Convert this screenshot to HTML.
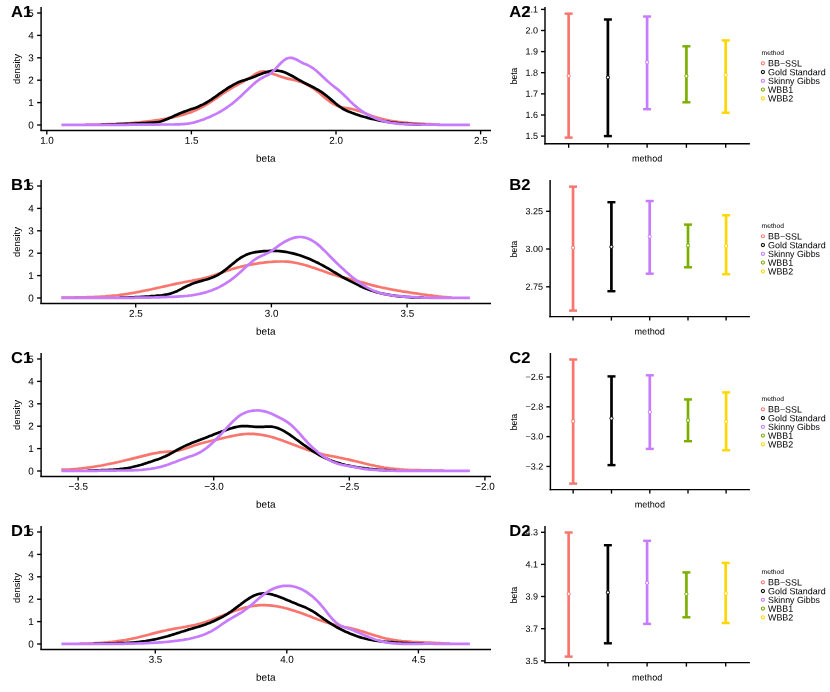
<!DOCTYPE html>
<html>
<head>
<meta charset="utf-8">
<title>density / interval comparison</title>
<style>
html,body{margin:0;padding:0;background:#ffffff;}
body{width:830px;height:692px;overflow:hidden;}
svg{display:block;font-family:"Liberation Sans",sans-serif;will-change:transform;}
</style>
</head>
<body>
<svg width="830" height="692" viewBox="0 0 830 692">
<rect x="0" y="0" width="830" height="692" fill="#ffffff"/>
<path d="M85.4 124.6L87.4 124.6L89.4 124.6L91.4 124.6L93.4 124.5L95.4 124.5L97.4 124.5L99.4 124.4L101.4 124.4L103.5 124.3L105.5 124.3L107.5 124.2L109.5 124.2L111.5 124.1L113.5 124.0L115.5 124.0L117.5 123.9L119.5 123.8L121.5 123.7L123.5 123.6L125.5 123.5L127.5 123.3L129.5 123.2L131.5 123.0L133.5 122.9L135.5 122.7L137.5 122.5L139.5 122.4L141.5 122.2L143.5 121.9L145.5 121.7L147.5 121.5L149.5 121.2L151.5 121.0L153.5 120.7L155.5 120.4L157.5 120.1L159.5 119.8L161.5 119.4L163.5 119.1L165.5 118.7L167.5 118.3L169.5 117.9L171.5 117.5L173.5 117.1L175.5 116.6L177.5 116.1L179.5 115.6L181.5 115.1L183.5 114.6L185.6 114.0L187.6 113.3L189.6 112.7L191.6 111.9L193.6 111.1L195.6 110.2L197.6 109.3L199.6 108.3L201.6 107.3L203.6 106.2L205.6 105.0L207.6 103.9L209.6 102.6L211.6 101.3L213.6 100.0L215.6 98.7L217.6 97.3L219.6 95.9L221.6 94.5L223.6 93.1L225.6 91.8L227.6 90.5L229.6 89.3L231.6 88.1L233.6 86.9L235.6 85.8L237.6 84.7L239.6 83.6L241.6 82.5L243.6 81.4L245.6 80.2L247.6 79.1L249.6 77.8L251.6 76.6L253.6 75.3L255.6 74.0L257.6 72.9L259.6 72.1L261.6 71.5L263.6 71.4L265.6 71.7L267.7 72.2L269.7 72.8L271.7 73.5L273.7 74.1L275.7 74.8L277.7 75.5L279.7 76.2L281.7 76.9L283.7 77.5L285.7 78.1L287.7 78.6L289.7 79.1L291.7 79.5L293.7 80.0L295.7 80.5L297.7 81.0L299.7 81.6L301.7 82.3L303.7 83.1L305.7 84.0L307.7 85.0L309.7 86.1L311.7 87.4L313.7 88.7L315.7 90.1L317.7 91.7L319.7 93.3L321.7 94.9L323.7 96.7L325.7 98.4L327.7 100.0L329.7 101.5L331.7 102.8L333.7 104.0L335.7 105.0L337.7 105.9L339.7 106.6L341.7 107.2L343.7 107.7L345.7 108.0L347.8 108.3L349.8 108.6L351.8 109.0L353.8 109.5L355.8 110.0L357.8 110.6L359.8 111.3L361.8 112.1L363.8 112.8L365.8 113.6L367.8 114.4L369.8 115.1L371.8 115.9L373.8 116.6L375.8 117.2L377.8 117.8L379.8 118.4L381.8 118.9L383.8 119.4L385.8 119.9L387.8 120.3L389.8 120.7L391.8 121.0L393.8 121.3L395.8 121.6L397.8 121.9L399.8 122.1L401.8 122.3L403.8 122.5L405.8 122.7L407.8 122.9L409.8 123.0L411.8 123.2L413.8 123.3L415.8 123.4L417.8 123.5L419.8 123.6L421.8 123.8L423.8 123.9L425.8 124.0L427.8 124.1L429.9 124.2L431.9 124.3L433.9 124.4L435.9 124.5L437.9 124.6L439.9 124.6" fill="none" stroke="#F8766D" stroke-width="2.70" stroke-linejoin="round" stroke-linecap="butt"/>
<path d="M101.4 124.7L103.5 124.6L105.5 124.6L107.5 124.5L109.5 124.5L111.5 124.4L113.5 124.3L115.5 124.3L117.5 124.2L119.5 124.1L121.5 124.1L123.5 124.0L125.5 123.9L127.5 123.8L129.5 123.8L131.5 123.7L133.5 123.6L135.5 123.5L137.5 123.4L139.5 123.3L141.5 123.2L143.5 123.1L145.5 123.0L147.5 122.9L149.5 122.8L151.5 122.7L153.5 122.6L155.5 122.4L157.5 122.2L159.5 121.8L161.5 121.3L163.5 120.6L165.5 119.8L167.5 119.0L169.5 118.1L171.5 117.2L173.5 116.2L175.5 115.3L177.5 114.4L179.5 113.5L181.5 112.7L183.5 111.9L185.6 111.2L187.6 110.5L189.6 109.8L191.6 109.1L193.6 108.4L195.6 107.7L197.6 106.9L199.6 106.0L201.6 105.1L203.6 104.1L205.6 103.0L207.6 101.8L209.6 100.6L211.6 99.3L213.6 97.9L215.6 96.6L217.6 95.2L219.6 93.7L221.6 92.3L223.6 90.9L225.6 89.6L227.6 88.2L229.6 87.0L231.6 85.8L233.6 84.6L235.6 83.6L237.6 82.6L239.6 81.8L241.6 81.0L243.6 80.4L245.6 79.7L247.6 79.1L249.6 78.4L251.6 77.7L253.6 76.9L255.6 76.2L257.6 75.3L259.6 74.5L261.6 73.8L263.6 73.0L265.6 72.4L267.7 71.8L269.7 71.3L271.7 70.9L273.7 70.7L275.7 70.6L277.7 70.7L279.7 71.0L281.7 71.4L283.7 72.0L285.7 72.8L287.7 73.7L289.7 74.7L291.7 75.7L293.7 76.8L295.7 78.0L297.7 79.1L299.7 80.3L301.7 81.4L303.7 82.5L305.7 83.5L307.7 84.5L309.7 85.5L311.7 86.5L313.7 87.5L315.7 88.6L317.7 89.7L319.7 90.9L321.7 92.2L323.7 93.6L325.7 95.1L327.7 96.7L329.7 98.4L331.7 100.1L333.7 101.8L335.7 103.5L337.7 105.1L339.7 106.6L341.7 108.0L343.7 109.3L345.7 110.3L347.8 111.2L349.8 112.0L351.8 112.8L353.8 113.5L355.8 114.3L357.8 114.9L359.8 115.6L361.8 116.2L363.8 116.8L365.8 117.3L367.8 117.9L369.8 118.4L371.8 118.9L373.8 119.3L375.8 119.8L377.8 120.2L379.8 120.6L381.8 120.9L383.8 121.3L385.8 121.6L387.8 121.9L389.8 122.2L391.8 122.4L393.8 122.7L395.8 122.9L397.8 123.1L399.8 123.3L401.8 123.5L403.8 123.7L405.8 123.8L407.8 123.9L409.8 124.1L411.8 124.2L413.8 124.3L415.8 124.4L417.8 124.4L419.8 124.5L421.8 124.6L423.8 124.6L425.8 124.7" fill="none" stroke="#000000" stroke-width="2.70" stroke-linejoin="round" stroke-linecap="butt"/>
<path d="M61.4 124.8L63.4 124.8L65.4 124.8L67.4 124.8L69.4 124.9L71.4 124.9L73.4 124.9L75.4 124.9L77.4 124.9L79.4 124.9L81.4 124.9L83.4 124.9L85.4 124.9L87.4 124.9L89.4 124.9L91.4 124.9L93.4 124.9L95.4 124.9L97.4 124.9L99.4 124.9L101.4 124.9L103.5 124.9L105.5 124.9L107.5 124.8L109.5 124.8L111.5 124.8L113.5 124.8L115.5 124.8L117.5 124.8L119.5 124.8L121.5 124.8L123.5 124.8L125.5 124.8L127.5 124.8L129.5 124.7L131.5 124.7L133.5 124.7L135.5 124.7L137.5 124.7L139.5 124.7L141.5 124.7L143.5 124.7L145.5 124.6L147.5 124.6L149.5 124.6L151.5 124.6L153.5 124.6L155.5 124.6L157.5 124.6L159.5 124.6L161.5 124.5L163.5 124.5L165.5 124.5L167.5 124.5L169.5 124.5L171.5 124.5L173.5 124.5L175.5 124.4L177.5 124.4L179.5 124.3L181.5 124.2L183.5 124.1L185.6 123.9L187.6 123.7L189.6 123.4L191.6 123.0L193.6 122.6L195.6 122.0L197.6 121.4L199.6 120.8L201.6 120.1L203.6 119.4L205.6 118.6L207.6 117.8L209.6 116.9L211.6 116.0L213.6 115.1L215.6 114.1L217.6 113.1L219.6 112.0L221.6 110.8L223.6 109.6L225.6 108.3L227.6 107.0L229.6 105.5L231.6 104.1L233.6 102.5L235.6 100.8L237.6 99.1L239.6 97.3L241.6 95.4L243.6 93.5L245.6 91.6L247.6 89.7L249.6 87.7L251.6 85.9L253.6 84.1L255.6 82.4L257.6 80.8L259.6 79.4L261.6 78.2L263.6 77.1L265.6 76.1L267.7 75.2L269.7 74.0L271.7 72.5L273.7 70.7L275.7 68.6L277.7 66.4L279.7 64.3L281.7 62.2L283.7 60.5L285.7 59.1L287.7 58.2L289.7 57.8L291.7 57.9L293.7 58.4L295.7 59.2L297.7 60.3L299.7 61.4L301.7 62.5L303.7 63.5L305.7 64.3L307.7 65.1L309.7 66.1L311.7 67.3L313.7 68.7L315.7 70.3L317.7 72.0L319.7 73.8L321.7 75.7L323.7 77.6L325.7 79.5L327.7 81.3L329.7 83.0L331.7 84.7L333.7 86.3L335.7 87.8L337.7 89.4L339.7 91.1L341.7 92.9L343.7 94.7L345.7 96.7L347.8 98.8L349.8 100.9L351.8 102.8L353.8 104.7L355.8 106.4L357.8 108.0L359.8 109.5L361.8 111.0L363.8 112.3L365.8 113.5L367.8 114.7L369.8 115.7L371.8 116.7L373.8 117.6L375.8 118.4L377.8 119.2L379.8 119.9L381.8 120.5L383.8 121.1L385.8 121.6L387.8 122.1L389.8 122.5L391.8 122.8L393.8 123.1L395.8 123.4L397.8 123.6L399.8 123.8L401.8 124.0L403.8 124.1L405.8 124.2L407.8 124.3L409.8 124.4L411.8 124.4L413.8 124.5L415.8 124.5L417.8 124.5L419.8 124.5L421.8 124.6L423.8 124.6L425.8 124.6L427.8 124.6L429.9 124.7L431.9 124.7L433.9 124.7L435.9 124.7L437.9 124.8L439.9 124.8L441.9 124.8L443.9 124.9L445.9 124.9L447.9 124.9L449.9 124.9L451.9 124.9L453.9 124.9L455.9 124.9L457.9 124.9L459.9 124.9L461.9 124.9L463.9 124.9L465.9 124.9L467.9 124.8L469.9 124.8" fill="none" stroke="#C77CFF" stroke-width="2.70" stroke-linejoin="round" stroke-linecap="butt"/>
<line x1="41.10" y1="7.00" x2="41.10" y2="131.12" stroke="#000000" stroke-width="1.45" stroke-linecap="butt"/>
<line x1="40.38" y1="130.40" x2="491.00" y2="130.40" stroke="#000000" stroke-width="1.45" stroke-linecap="butt"/>
<line x1="37.10" y1="125.00" x2="41.10" y2="125.00" stroke="#000000" stroke-width="1.35" stroke-linecap="butt"/>
<text x="33.70" y="128.44" font-size="9.90" text-anchor="end" font-weight="normal" fill="#000000" stroke="#000000" stroke-width="0.02" transform="rotate(0.03 33.70 128.44)">0</text>
<line x1="37.10" y1="102.60" x2="41.10" y2="102.60" stroke="#000000" stroke-width="1.35" stroke-linecap="butt"/>
<text x="33.70" y="106.04" font-size="9.90" text-anchor="end" font-weight="normal" fill="#000000" stroke="#000000" stroke-width="0.02" transform="rotate(0.03 33.70 106.04)">1</text>
<line x1="37.10" y1="80.20" x2="41.10" y2="80.20" stroke="#000000" stroke-width="1.35" stroke-linecap="butt"/>
<text x="33.70" y="83.64" font-size="9.90" text-anchor="end" font-weight="normal" fill="#000000" stroke="#000000" stroke-width="0.02" transform="rotate(0.03 33.70 83.64)">2</text>
<line x1="37.10" y1="57.80" x2="41.10" y2="57.80" stroke="#000000" stroke-width="1.35" stroke-linecap="butt"/>
<text x="33.70" y="61.24" font-size="9.90" text-anchor="end" font-weight="normal" fill="#000000" stroke="#000000" stroke-width="0.02" transform="rotate(0.03 33.70 61.24)">3</text>
<line x1="37.10" y1="35.40" x2="41.10" y2="35.40" stroke="#000000" stroke-width="1.35" stroke-linecap="butt"/>
<text x="33.70" y="38.84" font-size="9.90" text-anchor="end" font-weight="normal" fill="#000000" stroke="#000000" stroke-width="0.02" transform="rotate(0.03 33.70 38.84)">4</text>
<line x1="37.10" y1="13.00" x2="41.10" y2="13.00" stroke="#000000" stroke-width="1.35" stroke-linecap="butt"/>
<text x="33.70" y="16.44" font-size="9.90" text-anchor="end" font-weight="normal" fill="#000000" stroke="#000000" stroke-width="0.02" transform="rotate(0.03 33.70 16.44)">5</text>
<line x1="46.80" y1="130.40" x2="46.80" y2="134.40" stroke="#000000" stroke-width="1.35" stroke-linecap="butt"/>
<text x="47.00" y="143.80" font-size="9.90" text-anchor="middle" font-weight="normal" fill="#000000" stroke="#000000" stroke-width="0.02" transform="rotate(0.03 47.00 143.80)">1.0</text>
<line x1="191.40" y1="130.40" x2="191.40" y2="134.40" stroke="#000000" stroke-width="1.35" stroke-linecap="butt"/>
<text x="191.60" y="143.80" font-size="9.90" text-anchor="middle" font-weight="normal" fill="#000000" stroke="#000000" stroke-width="0.02" transform="rotate(0.03 191.60 143.80)">1.5</text>
<line x1="336.00" y1="130.40" x2="336.00" y2="134.40" stroke="#000000" stroke-width="1.35" stroke-linecap="butt"/>
<text x="336.20" y="143.80" font-size="9.90" text-anchor="middle" font-weight="normal" fill="#000000" stroke="#000000" stroke-width="0.02" transform="rotate(0.03 336.20 143.80)">2.0</text>
<line x1="480.60" y1="130.40" x2="480.60" y2="134.40" stroke="#000000" stroke-width="1.35" stroke-linecap="butt"/>
<text x="480.80" y="143.80" font-size="9.90" text-anchor="middle" font-weight="normal" fill="#000000" stroke="#000000" stroke-width="0.02" transform="rotate(0.03 480.80 143.80)">2.5</text>
<text x="265.75" y="161.70" font-size="10.00" text-anchor="middle" font-weight="normal" fill="#000000" stroke="#000000" stroke-width="0.02" transform="rotate(0.03 265.75 161.70)">beta</text>
<text x="20.40" y="69.00" font-size="9.45" text-anchor="middle" font-weight="normal" fill="#000000" stroke="#000000" stroke-width="0.02" transform="rotate(-90 20.40 69.00)">density</text>
<text transform="translate(11.00 17.00) rotate(0.03) scale(1.047 1)" font-size="15.85" font-weight="bold" fill="#000000" stroke="#000000" stroke-width="0.02">A1</text>
<path d="M61.4 297.6L63.4 297.5L65.4 297.5L67.4 297.5L69.4 297.5L71.4 297.5L73.4 297.5L75.4 297.4L77.4 297.4L79.4 297.4L81.4 297.3L83.4 297.3L85.4 297.3L87.4 297.2L89.4 297.2L91.4 297.1L93.4 297.0L95.4 296.9L97.4 296.9L99.4 296.8L101.4 296.6L103.5 296.5L105.5 296.4L107.5 296.2L109.5 296.1L111.5 295.9L113.5 295.7L115.5 295.5L117.5 295.3L119.5 295.0L121.5 294.7L123.5 294.5L125.5 294.2L127.5 293.9L129.5 293.5L131.5 293.2L133.5 292.9L135.5 292.5L137.5 292.1L139.5 291.7L141.5 291.3L143.5 290.9L145.5 290.5L147.5 290.1L149.5 289.7L151.5 289.3L153.5 288.8L155.5 288.4L157.5 287.9L159.5 287.5L161.5 287.0L163.5 286.6L165.5 286.1L167.5 285.7L169.5 285.3L171.5 284.8L173.5 284.4L175.5 283.9L177.5 283.5L179.5 283.1L181.5 282.7L183.5 282.3L185.6 281.9L187.6 281.5L189.6 281.1L191.6 280.8L193.6 280.4L195.6 280.0L197.6 279.6L199.6 279.2L201.6 278.8L203.6 278.3L205.6 277.8L207.6 277.2L209.6 276.7L211.6 276.1L213.6 275.4L215.6 274.7L217.6 274.0L219.6 273.3L221.6 272.6L223.6 271.9L225.6 271.2L227.6 270.5L229.6 269.9L231.6 269.2L233.6 268.6L235.6 268.1L237.6 267.5L239.6 267.0L241.6 266.5L243.6 266.1L245.6 265.6L247.6 265.2L249.6 264.8L251.6 264.5L253.6 264.1L255.6 263.8L257.6 263.5L259.6 263.2L261.6 262.9L263.6 262.7L265.6 262.4L267.7 262.2L269.7 262.0L271.7 261.9L273.7 261.7L275.7 261.6L277.7 261.5L279.7 261.5L281.7 261.5L283.7 261.5L285.7 261.6L287.7 261.7L289.7 261.9L291.7 262.2L293.7 262.5L295.7 262.8L297.7 263.2L299.7 263.7L301.7 264.2L303.7 264.7L305.7 265.3L307.7 265.9L309.7 266.5L311.7 267.2L313.7 267.8L315.7 268.5L317.7 269.2L319.7 269.9L321.7 270.6L323.7 271.3L325.7 272.0L327.7 272.7L329.7 273.4L331.7 274.1L333.7 274.7L335.7 275.3L337.7 275.9L339.7 276.5L341.7 277.1L343.7 277.6L345.7 278.1L347.8 278.6L349.8 279.1L351.8 279.5L353.8 280.0L355.8 280.6L357.8 281.1L359.8 281.7L361.8 282.2L363.8 282.8L365.8 283.4L367.8 284.0L369.8 284.5L371.8 285.1L373.8 285.6L375.8 286.1L377.8 286.6L379.8 287.0L381.8 287.5L383.8 287.9L385.8 288.3L387.8 288.7L389.8 289.1L391.8 289.5L393.8 289.9L395.8 290.2L397.8 290.6L399.8 290.9L401.8 291.3L403.8 291.6L405.8 291.9L407.8 292.2L409.8 292.5L411.8 292.8L413.8 293.1L415.8 293.4L417.8 293.7L419.8 294.0L421.8 294.3L423.8 294.5L425.8 294.8L427.8 295.1L429.9 295.3L431.9 295.6L433.9 295.9L435.9 296.1L437.9 296.4L439.9 296.6L441.9 296.8L443.9 297.0L445.9 297.2L447.9 297.4L449.9 297.6L451.9 297.7" fill="none" stroke="#F8766D" stroke-width="2.70" stroke-linejoin="round" stroke-linecap="butt"/>
<path d="M119.5 297.7L121.5 297.6L123.5 297.6L125.5 297.5L127.5 297.5L129.5 297.4L131.5 297.3L133.5 297.3L135.5 297.2L137.5 297.1L139.5 297.0L141.5 296.9L143.5 296.8L145.5 296.6L147.5 296.5L149.5 296.4L151.5 296.2L153.5 296.0L155.5 295.9L157.5 295.7L159.5 295.5L161.5 295.3L163.5 295.0L165.5 294.7L167.5 294.4L169.5 293.9L171.5 293.3L173.5 292.6L175.5 291.8L177.5 290.9L179.5 289.9L181.5 288.9L183.5 287.8L185.6 286.8L187.6 285.8L189.6 284.9L191.6 284.0L193.6 283.3L195.6 282.6L197.6 282.0L199.6 281.4L201.6 280.9L203.6 280.3L205.6 279.8L207.6 279.2L209.6 278.5L211.6 277.8L213.6 277.0L215.6 276.1L217.6 275.1L219.6 273.9L221.6 272.6L223.6 271.1L225.6 269.6L227.6 268.0L229.6 266.4L231.6 264.7L233.6 263.1L235.6 261.5L237.6 259.9L239.6 258.5L241.6 257.2L243.6 256.1L245.6 255.1L247.6 254.2L249.6 253.5L251.6 253.0L253.6 252.5L255.6 252.1L257.6 251.8L259.6 251.6L261.6 251.4L263.6 251.2L265.6 251.1L267.7 251.0L269.7 250.9L271.7 250.9L273.7 250.9L275.7 250.9L277.7 251.0L279.7 251.2L281.7 251.4L283.7 251.6L285.7 251.9L287.7 252.3L289.7 252.7L291.7 253.1L293.7 253.6L295.7 254.1L297.7 254.7L299.7 255.3L301.7 256.0L303.7 256.7L305.7 257.5L307.7 258.3L309.7 259.1L311.7 260.0L313.7 260.9L315.7 261.9L317.7 262.8L319.7 263.9L321.7 264.9L323.7 266.0L325.7 267.1L327.7 268.2L329.7 269.4L331.7 270.6L333.7 271.8L335.7 273.0L337.7 274.2L339.7 275.4L341.7 276.6L343.7 277.7L345.7 278.8L347.8 279.9L349.8 280.9L351.8 281.9L353.8 282.9L355.8 283.9L357.8 284.9L359.8 285.9L361.8 286.8L363.8 287.7L365.8 288.5L367.8 289.3L369.8 290.0L371.8 290.7L373.8 291.3L375.8 291.9L377.8 292.5L379.8 293.0L381.8 293.4L383.8 293.9L385.8 294.3L387.8 294.7L389.8 295.0L391.8 295.3L393.8 295.6L395.8 295.9L397.8 296.1L399.8 296.3L401.8 296.5L403.8 296.7L405.8 296.9L407.8 297.0L409.8 297.1L411.8 297.3L413.8 297.3L415.8 297.4L417.8 297.5L419.8 297.6L421.8 297.6L423.8 297.7" fill="none" stroke="#000000" stroke-width="2.70" stroke-linejoin="round" stroke-linecap="butt"/>
<path d="M61.4 297.9L63.4 297.9L65.4 297.9L67.4 297.9L69.4 297.9L71.4 297.8L73.4 297.8L75.4 297.8L77.4 297.8L79.4 297.8L81.4 297.8L83.4 297.8L85.4 297.8L87.4 297.8L89.4 297.8L91.4 297.8L93.4 297.8L95.4 297.8L97.4 297.8L99.4 297.8L101.4 297.8L103.5 297.8L105.5 297.8L107.5 297.8L109.5 297.8L111.5 297.8L113.5 297.8L115.5 297.8L117.5 297.8L119.5 297.8L121.5 297.8L123.5 297.8L125.5 297.8L127.5 297.8L129.5 297.8L131.5 297.8L133.5 297.8L135.5 297.7L137.5 297.7L139.5 297.7L141.5 297.7L143.5 297.7L145.5 297.6L147.5 297.6L149.5 297.6L151.5 297.5L153.5 297.5L155.5 297.4L157.5 297.4L159.5 297.3L161.5 297.2L163.5 297.2L165.5 297.1L167.5 297.0L169.5 297.0L171.5 296.9L173.5 296.8L175.5 296.7L177.5 296.6L179.5 296.4L181.5 296.3L183.5 296.2L185.6 296.0L187.6 295.8L189.6 295.5L191.6 295.3L193.6 295.0L195.6 294.7L197.6 294.3L199.6 293.9L201.6 293.4L203.6 292.9L205.6 292.4L207.6 291.8L209.6 291.1L211.6 290.4L213.6 289.6L215.6 288.8L217.6 287.9L219.6 286.9L221.6 285.8L223.6 284.7L225.6 283.5L227.6 282.2L229.6 280.9L231.6 279.4L233.6 277.9L235.6 276.2L237.6 274.5L239.6 272.7L241.6 270.9L243.6 269.0L245.6 267.2L247.6 265.4L249.6 263.7L251.6 262.0L253.6 260.4L255.6 259.0L257.6 257.8L259.6 256.7L261.6 255.8L263.6 254.9L265.6 254.0L267.7 253.1L269.7 252.1L271.7 250.8L273.7 249.4L275.7 247.9L277.7 246.4L279.7 244.9L281.7 243.6L283.7 242.3L285.7 241.2L287.7 240.2L289.7 239.3L291.7 238.5L293.7 237.9L295.7 237.4L297.7 237.1L299.7 237.0L301.7 237.0L303.7 237.3L305.7 237.7L307.7 238.4L309.7 239.2L311.7 240.3L313.7 241.5L315.7 242.9L317.7 244.4L319.7 246.1L321.7 248.0L323.7 249.9L325.7 251.9L327.7 253.9L329.7 256.0L331.7 258.0L333.7 260.0L335.7 262.0L337.7 263.9L339.7 265.9L341.7 267.8L343.7 269.6L345.7 271.5L347.8 273.2L349.8 275.0L351.8 276.7L353.8 278.3L355.8 279.9L357.8 281.4L359.8 282.8L361.8 284.2L363.8 285.5L365.8 286.7L367.8 287.9L369.8 288.9L371.8 289.9L373.8 290.8L375.8 291.6L377.8 292.3L379.8 292.9L381.8 293.4L383.8 293.9L385.8 294.3L387.8 294.7L389.8 295.0L391.8 295.3L393.8 295.6L395.8 295.8L397.8 296.0L399.8 296.2L401.8 296.4L403.8 296.6L405.8 296.7L407.8 296.9L409.8 297.0L411.8 297.1L413.8 297.2L415.8 297.4L417.8 297.4L419.8 297.5L421.8 297.6L423.8 297.7L425.8 297.7L427.8 297.7L429.9 297.8L431.9 297.8L433.9 297.8L435.9 297.8L437.9 297.9L439.9 297.9L441.9 297.9L443.9 297.9L445.9 297.9L447.9 297.8L449.9 297.8L451.9 297.8L453.9 297.8L455.9 297.8L457.9 297.8L459.9 297.8L461.9 297.8L463.9 297.8L465.9 297.8L467.9 297.9L469.9 297.9" fill="none" stroke="#C77CFF" stroke-width="2.70" stroke-linejoin="round" stroke-linecap="butt"/>
<line x1="41.10" y1="180.00" x2="41.10" y2="304.12" stroke="#000000" stroke-width="1.45" stroke-linecap="butt"/>
<line x1="40.38" y1="303.40" x2="491.00" y2="303.40" stroke="#000000" stroke-width="1.45" stroke-linecap="butt"/>
<line x1="37.10" y1="298.00" x2="41.10" y2="298.00" stroke="#000000" stroke-width="1.35" stroke-linecap="butt"/>
<text x="33.70" y="301.44" font-size="9.90" text-anchor="end" font-weight="normal" fill="#000000" stroke="#000000" stroke-width="0.02" transform="rotate(0.03 33.70 301.44)">0</text>
<line x1="37.10" y1="275.60" x2="41.10" y2="275.60" stroke="#000000" stroke-width="1.35" stroke-linecap="butt"/>
<text x="33.70" y="279.04" font-size="9.90" text-anchor="end" font-weight="normal" fill="#000000" stroke="#000000" stroke-width="0.02" transform="rotate(0.03 33.70 279.04)">1</text>
<line x1="37.10" y1="253.20" x2="41.10" y2="253.20" stroke="#000000" stroke-width="1.35" stroke-linecap="butt"/>
<text x="33.70" y="256.64" font-size="9.90" text-anchor="end" font-weight="normal" fill="#000000" stroke="#000000" stroke-width="0.02" transform="rotate(0.03 33.70 256.64)">2</text>
<line x1="37.10" y1="230.80" x2="41.10" y2="230.80" stroke="#000000" stroke-width="1.35" stroke-linecap="butt"/>
<text x="33.70" y="234.24" font-size="9.90" text-anchor="end" font-weight="normal" fill="#000000" stroke="#000000" stroke-width="0.02" transform="rotate(0.03 33.70 234.24)">3</text>
<line x1="37.10" y1="208.40" x2="41.10" y2="208.40" stroke="#000000" stroke-width="1.35" stroke-linecap="butt"/>
<text x="33.70" y="211.84" font-size="9.90" text-anchor="end" font-weight="normal" fill="#000000" stroke="#000000" stroke-width="0.02" transform="rotate(0.03 33.70 211.84)">4</text>
<line x1="37.10" y1="186.00" x2="41.10" y2="186.00" stroke="#000000" stroke-width="1.35" stroke-linecap="butt"/>
<text x="33.70" y="189.44" font-size="9.90" text-anchor="end" font-weight="normal" fill="#000000" stroke="#000000" stroke-width="0.02" transform="rotate(0.03 33.70 189.44)">5</text>
<line x1="135.70" y1="303.40" x2="135.70" y2="307.40" stroke="#000000" stroke-width="1.35" stroke-linecap="butt"/>
<text x="135.90" y="316.80" font-size="9.90" text-anchor="middle" font-weight="normal" fill="#000000" stroke="#000000" stroke-width="0.02" transform="rotate(0.03 135.90 316.80)">2.5</text>
<line x1="271.40" y1="303.40" x2="271.40" y2="307.40" stroke="#000000" stroke-width="1.35" stroke-linecap="butt"/>
<text x="271.60" y="316.80" font-size="9.90" text-anchor="middle" font-weight="normal" fill="#000000" stroke="#000000" stroke-width="0.02" transform="rotate(0.03 271.60 316.80)">3.0</text>
<line x1="407.10" y1="303.40" x2="407.10" y2="307.40" stroke="#000000" stroke-width="1.35" stroke-linecap="butt"/>
<text x="407.30" y="316.80" font-size="9.90" text-anchor="middle" font-weight="normal" fill="#000000" stroke="#000000" stroke-width="0.02" transform="rotate(0.03 407.30 316.80)">3.5</text>
<text x="265.75" y="334.70" font-size="10.00" text-anchor="middle" font-weight="normal" fill="#000000" stroke="#000000" stroke-width="0.02" transform="rotate(0.03 265.75 334.70)">beta</text>
<text x="20.40" y="242.00" font-size="9.45" text-anchor="middle" font-weight="normal" fill="#000000" stroke="#000000" stroke-width="0.02" transform="rotate(-90 20.40 242.00)">density</text>
<text transform="translate(11.00 190.00) rotate(0.03) scale(1.047 1)" font-size="15.85" font-weight="bold" fill="#000000" stroke="#000000" stroke-width="0.02">B1</text>
<path d="M61.4 469.7L63.4 469.7L65.4 469.6L67.4 469.5L69.4 469.5L71.4 469.3L73.4 469.2L75.4 469.0L77.4 468.9L79.4 468.7L81.4 468.5L83.4 468.2L85.4 468.0L87.4 467.7L89.4 467.5L91.4 467.2L93.4 466.9L95.4 466.5L97.4 466.2L99.4 465.8L101.4 465.5L103.5 465.1L105.5 464.7L107.5 464.3L109.5 463.9L111.5 463.5L113.5 463.1L115.5 462.6L117.5 462.2L119.5 461.7L121.5 461.3L123.5 460.8L125.5 460.3L127.5 459.8L129.5 459.4L131.5 458.9L133.5 458.4L135.5 457.9L137.5 457.4L139.5 456.9L141.5 456.4L143.5 455.9L145.5 455.4L147.5 454.9L149.5 454.4L151.5 453.9L153.5 453.5L155.5 453.1L157.5 452.8L159.5 452.4L161.5 452.2L163.5 452.0L165.5 451.8L167.5 451.7L169.5 451.6L171.5 451.5L173.5 451.3L175.5 451.0L177.5 450.7L179.5 450.2L181.5 449.7L183.5 449.1L185.6 448.5L187.6 447.8L189.6 447.2L191.6 446.5L193.6 445.8L195.6 445.1L197.6 444.4L199.6 443.8L201.6 443.2L203.6 442.7L205.6 442.2L207.6 441.8L209.6 441.3L211.6 440.9L213.6 440.4L215.6 439.9L217.6 439.4L219.6 439.0L221.6 438.5L223.6 438.0L225.6 437.5L227.6 437.0L229.6 436.6L231.6 436.1L233.6 435.7L235.6 435.3L237.6 435.0L239.6 434.7L241.6 434.4L243.6 434.2L245.6 434.0L247.6 433.9L249.6 433.9L251.6 433.9L253.6 433.9L255.6 434.1L257.6 434.3L259.6 434.5L261.6 434.8L263.6 435.2L265.6 435.6L267.7 436.0L269.7 436.5L271.7 437.0L273.7 437.6L275.7 438.2L277.7 438.9L279.7 439.5L281.7 440.2L283.7 441.0L285.7 441.7L287.7 442.4L289.7 443.2L291.7 444.0L293.7 444.7L295.7 445.5L297.7 446.3L299.7 447.0L301.7 447.8L303.7 448.5L305.7 449.2L307.7 449.9L309.7 450.6L311.7 451.3L313.7 451.9L315.7 452.5L317.7 453.1L319.7 453.6L321.7 454.1L323.7 454.6L325.7 455.0L327.7 455.4L329.7 455.8L331.7 456.1L333.7 456.5L335.7 456.9L337.7 457.3L339.7 457.7L341.7 458.1L343.7 458.5L345.7 459.0L347.8 459.4L349.8 459.9L351.8 460.4L353.8 460.9L355.8 461.3L357.8 461.8L359.8 462.3L361.8 462.8L363.8 463.3L365.8 463.7L367.8 464.2L369.8 464.7L371.8 465.1L373.8 465.5L375.8 466.0L377.8 466.4L379.8 466.8L381.8 467.1L383.8 467.5L385.8 467.8L387.8 468.1L389.8 468.4L391.8 468.6L393.8 468.8L395.8 469.0L397.8 469.2L399.8 469.4L401.8 469.5L403.8 469.7L405.8 469.8L407.8 469.9L409.8 470.0L411.8 470.0L413.8 470.1L415.8 470.1L417.8 470.2L419.8 470.2L421.8 470.3L423.8 470.3L425.8 470.3L427.8 470.4L429.9 470.4L431.9 470.4L433.9 470.5L435.9 470.5L437.9 470.5L439.9 470.6L441.9 470.6L443.9 470.7" fill="none" stroke="#F8766D" stroke-width="2.70" stroke-linejoin="round" stroke-linecap="butt"/>
<path d="M87.4 470.6L89.4 470.6L91.4 470.5L93.4 470.5L95.4 470.4L97.4 470.4L99.4 470.3L101.4 470.2L103.5 470.1L105.5 470.1L107.5 470.0L109.5 469.9L111.5 469.8L113.5 469.7L115.5 469.5L117.5 469.3L119.5 469.2L121.5 468.9L123.5 468.7L125.5 468.4L127.5 468.1L129.5 467.7L131.5 467.3L133.5 466.8L135.5 466.3L137.5 465.8L139.5 465.2L141.5 464.7L143.5 464.1L145.5 463.4L147.5 462.8L149.5 462.1L151.5 461.5L153.5 460.8L155.5 460.1L157.5 459.4L159.5 458.7L161.5 457.9L163.5 457.1L165.5 456.2L167.5 455.2L169.5 454.2L171.5 453.1L173.5 452.0L175.5 450.9L177.5 449.8L179.5 448.7L181.5 447.6L183.5 446.6L185.6 445.6L187.6 444.7L189.6 443.9L191.6 443.1L193.6 442.3L195.6 441.5L197.6 440.8L199.6 440.0L201.6 439.2L203.6 438.4L205.6 437.7L207.6 436.9L209.6 436.1L211.6 435.4L213.6 434.6L215.6 433.8L217.6 433.1L219.6 432.3L221.6 431.6L223.6 430.9L225.6 430.2L227.6 429.5L229.6 428.8L231.6 428.2L233.6 427.6L235.6 427.1L237.6 426.7L239.6 426.3L241.6 426.1L243.6 426.0L245.6 426.1L247.6 426.2L249.6 426.3L251.6 426.5L253.6 426.7L255.6 426.8L257.6 426.8L259.6 426.9L261.6 426.8L263.6 426.8L265.6 426.7L267.7 426.6L269.7 426.6L271.7 426.7L273.7 427.0L275.7 427.5L277.7 428.1L279.7 428.9L281.7 429.9L283.7 430.9L285.7 432.1L287.7 433.4L289.7 434.7L291.7 436.1L293.7 437.5L295.7 439.0L297.7 440.4L299.7 441.9L301.7 443.3L303.7 444.8L305.7 446.2L307.7 447.6L309.7 449.0L311.7 450.3L313.7 451.6L315.7 452.9L317.7 454.1L319.7 455.2L321.7 456.3L323.7 457.3L325.7 458.2L327.7 459.1L329.7 460.0L331.7 460.8L333.7 461.5L335.7 462.2L337.7 462.8L339.7 463.4L341.7 464.0L343.7 464.5L345.7 465.0L347.8 465.4L349.8 465.9L351.8 466.3L353.8 466.7L355.8 467.0L357.8 467.4L359.8 467.7L361.8 468.0L363.8 468.2L365.8 468.5L367.8 468.7L369.8 469.0L371.8 469.2L373.8 469.4L375.8 469.5L377.8 469.7L379.8 469.8L381.8 470.0L383.8 470.1L385.8 470.2L387.8 470.3L389.8 470.4L391.8 470.5L393.8 470.6L395.8 470.6" fill="none" stroke="#000000" stroke-width="2.70" stroke-linejoin="round" stroke-linecap="butt"/>
<path d="M61.4 470.8L63.4 470.8L65.4 470.9L67.4 470.9L69.4 470.9L71.4 470.9L73.4 470.9L75.4 470.9L77.4 470.9L79.4 470.9L81.4 470.9L83.4 470.9L85.4 470.9L87.4 470.9L89.4 470.9L91.4 470.8L93.4 470.8L95.4 470.8L97.4 470.8L99.4 470.7L101.4 470.7L103.5 470.7L105.5 470.7L107.5 470.6L109.5 470.6L111.5 470.6L113.5 470.6L115.5 470.6L117.5 470.5L119.5 470.5L121.5 470.5L123.5 470.5L125.5 470.5L127.5 470.5L129.5 470.4L131.5 470.4L133.5 470.3L135.5 470.2L137.5 470.1L139.5 470.0L141.5 469.9L143.5 469.7L145.5 469.5L147.5 469.2L149.5 469.0L151.5 468.7L153.5 468.3L155.5 468.0L157.5 467.5L159.5 467.1L161.5 466.6L163.5 466.0L165.5 465.4L167.5 464.7L169.5 464.1L171.5 463.3L173.5 462.6L175.5 461.9L177.5 461.1L179.5 460.3L181.5 459.6L183.5 458.8L185.6 458.1L187.6 457.3L189.6 456.6L191.6 455.9L193.6 455.2L195.6 454.4L197.6 453.5L199.6 452.6L201.6 451.4L203.6 450.1L205.6 448.7L207.6 447.1L209.6 445.4L211.6 443.7L213.6 441.8L215.6 439.8L217.6 437.8L219.6 435.7L221.6 433.6L223.6 431.4L225.6 429.2L227.6 427.0L229.6 424.9L231.6 422.8L233.6 420.8L235.6 418.9L237.6 417.2L239.6 415.7L241.6 414.4L243.6 413.4L245.6 412.5L247.6 411.8L249.6 411.3L251.6 410.9L253.6 410.6L255.6 410.5L257.6 410.4L259.6 410.5L261.6 410.8L263.6 411.1L265.6 411.6L267.7 412.2L269.7 413.0L271.7 413.8L273.7 414.8L275.7 415.8L277.7 416.8L279.7 417.8L281.7 418.8L283.7 419.8L285.7 421.0L287.7 422.3L289.7 423.8L291.7 425.5L293.7 427.4L295.7 429.4L297.7 431.5L299.7 433.7L301.7 436.0L303.7 438.3L305.7 440.5L307.7 442.7L309.7 444.8L311.7 446.7L313.7 448.6L315.7 450.3L317.7 452.0L319.7 453.6L321.7 455.2L323.7 456.6L325.7 457.9L327.7 459.2L329.7 460.3L331.7 461.4L333.7 462.3L335.7 463.1L337.7 463.8L339.7 464.3L341.7 464.8L343.7 465.2L345.7 465.5L347.8 465.8L349.8 466.2L351.8 466.5L353.8 466.9L355.8 467.3L357.8 467.7L359.8 468.1L361.8 468.5L363.8 468.8L365.8 469.1L367.8 469.4L369.8 469.6L371.8 469.7L373.8 469.9L375.8 470.0L377.8 470.1L379.8 470.2L381.8 470.3L383.8 470.4L385.8 470.5L387.8 470.6L389.8 470.6L391.8 470.7L393.8 470.7L395.8 470.8L397.8 470.8L399.8 470.9L401.8 470.9L403.8 470.9L405.8 470.9L407.8 470.9L409.8 470.9L411.8 470.9L413.8 470.9L415.8 470.9L417.8 470.9L419.8 470.9L421.8 470.9L423.8 470.9L425.8 470.9L427.8 470.9L429.9 470.9L431.9 470.9L433.9 470.8L435.9 470.8L437.9 470.8L439.9 470.8L441.9 470.8L443.9 470.8L445.9 470.8L447.9 470.8L449.9 470.8L451.9 470.8L453.9 470.8L455.9 470.8L457.9 470.8L459.9 470.8L461.9 470.8L463.9 470.8L465.9 470.9L467.9 470.9L469.9 470.9" fill="none" stroke="#C77CFF" stroke-width="2.70" stroke-linejoin="round" stroke-linecap="butt"/>
<line x1="41.10" y1="353.00" x2="41.10" y2="477.12" stroke="#000000" stroke-width="1.45" stroke-linecap="butt"/>
<line x1="40.38" y1="476.40" x2="491.00" y2="476.40" stroke="#000000" stroke-width="1.45" stroke-linecap="butt"/>
<line x1="37.10" y1="471.00" x2="41.10" y2="471.00" stroke="#000000" stroke-width="1.35" stroke-linecap="butt"/>
<text x="33.70" y="474.44" font-size="9.90" text-anchor="end" font-weight="normal" fill="#000000" stroke="#000000" stroke-width="0.02" transform="rotate(0.03 33.70 474.44)">0</text>
<line x1="37.10" y1="448.60" x2="41.10" y2="448.60" stroke="#000000" stroke-width="1.35" stroke-linecap="butt"/>
<text x="33.70" y="452.04" font-size="9.90" text-anchor="end" font-weight="normal" fill="#000000" stroke="#000000" stroke-width="0.02" transform="rotate(0.03 33.70 452.04)">1</text>
<line x1="37.10" y1="426.20" x2="41.10" y2="426.20" stroke="#000000" stroke-width="1.35" stroke-linecap="butt"/>
<text x="33.70" y="429.64" font-size="9.90" text-anchor="end" font-weight="normal" fill="#000000" stroke="#000000" stroke-width="0.02" transform="rotate(0.03 33.70 429.64)">2</text>
<line x1="37.10" y1="403.80" x2="41.10" y2="403.80" stroke="#000000" stroke-width="1.35" stroke-linecap="butt"/>
<text x="33.70" y="407.24" font-size="9.90" text-anchor="end" font-weight="normal" fill="#000000" stroke="#000000" stroke-width="0.02" transform="rotate(0.03 33.70 407.24)">3</text>
<line x1="37.10" y1="381.40" x2="41.10" y2="381.40" stroke="#000000" stroke-width="1.35" stroke-linecap="butt"/>
<text x="33.70" y="384.84" font-size="9.90" text-anchor="end" font-weight="normal" fill="#000000" stroke="#000000" stroke-width="0.02" transform="rotate(0.03 33.70 384.84)">4</text>
<line x1="37.10" y1="359.00" x2="41.10" y2="359.00" stroke="#000000" stroke-width="1.35" stroke-linecap="butt"/>
<text x="33.70" y="362.44" font-size="9.90" text-anchor="end" font-weight="normal" fill="#000000" stroke="#000000" stroke-width="0.02" transform="rotate(0.03 33.70 362.44)">5</text>
<line x1="78.10" y1="476.40" x2="78.10" y2="480.40" stroke="#000000" stroke-width="1.35" stroke-linecap="butt"/>
<text x="78.30" y="489.80" font-size="9.90" text-anchor="middle" font-weight="normal" fill="#000000" stroke="#000000" stroke-width="0.02" transform="rotate(0.03 78.30 489.80)">−3.5</text>
<line x1="213.70" y1="476.40" x2="213.70" y2="480.40" stroke="#000000" stroke-width="1.35" stroke-linecap="butt"/>
<text x="213.90" y="489.80" font-size="9.90" text-anchor="middle" font-weight="normal" fill="#000000" stroke="#000000" stroke-width="0.02" transform="rotate(0.03 213.90 489.80)">−3.0</text>
<line x1="349.30" y1="476.40" x2="349.30" y2="480.40" stroke="#000000" stroke-width="1.35" stroke-linecap="butt"/>
<text x="349.50" y="489.80" font-size="9.90" text-anchor="middle" font-weight="normal" fill="#000000" stroke="#000000" stroke-width="0.02" transform="rotate(0.03 349.50 489.80)">−2.5</text>
<line x1="484.90" y1="476.40" x2="484.90" y2="480.40" stroke="#000000" stroke-width="1.35" stroke-linecap="butt"/>
<text x="485.10" y="489.80" font-size="9.90" text-anchor="middle" font-weight="normal" fill="#000000" stroke="#000000" stroke-width="0.02" transform="rotate(0.03 485.10 489.80)">−2.0</text>
<text x="265.75" y="507.70" font-size="10.00" text-anchor="middle" font-weight="normal" fill="#000000" stroke="#000000" stroke-width="0.02" transform="rotate(0.03 265.75 507.70)">beta</text>
<text x="20.40" y="415.00" font-size="9.45" text-anchor="middle" font-weight="normal" fill="#000000" stroke="#000000" stroke-width="0.02" transform="rotate(-90 20.40 415.00)">density</text>
<text transform="translate(11.00 363.00) rotate(0.03) scale(1.047 1)" font-size="15.85" font-weight="bold" fill="#000000" stroke="#000000" stroke-width="0.02">C1</text>
<path d="M79.4 643.6L81.4 643.6L83.4 643.6L85.4 643.5L87.4 643.5L89.4 643.4L91.4 643.4L93.4 643.3L95.4 643.2L97.4 643.1L99.4 643.0L101.4 642.8L103.5 642.7L105.5 642.5L107.5 642.4L109.5 642.2L111.5 642.0L113.5 641.7L115.5 641.5L117.5 641.2L119.5 640.9L121.5 640.6L123.5 640.3L125.5 640.0L127.5 639.6L129.5 639.2L131.5 638.8L133.5 638.4L135.5 638.0L137.5 637.5L139.5 637.0L141.5 636.5L143.5 636.0L145.5 635.5L147.5 635.0L149.5 634.5L151.5 633.9L153.5 633.4L155.5 632.9L157.5 632.4L159.5 631.9L161.5 631.4L163.5 630.9L165.5 630.5L167.5 630.0L169.5 629.6L171.5 629.3L173.5 628.9L175.5 628.5L177.5 628.2L179.5 627.8L181.5 627.5L183.5 627.1L185.6 626.8L187.6 626.4L189.6 626.0L191.6 625.6L193.6 625.2L195.6 624.8L197.6 624.3L199.6 623.8L201.6 623.2L203.6 622.6L205.6 622.0L207.6 621.3L209.6 620.6L211.6 619.9L213.6 619.1L215.6 618.4L217.6 617.6L219.6 616.8L221.6 616.0L223.6 615.2L225.6 614.4L227.6 613.6L229.6 612.8L231.6 612.0L233.6 611.3L235.6 610.6L237.6 609.9L239.6 609.2L241.6 608.6L243.6 608.0L245.6 607.4L247.6 607.0L249.6 606.5L251.6 606.1L253.6 605.8L255.6 605.6L257.6 605.4L259.6 605.2L261.6 605.1L263.6 605.1L265.6 605.2L267.7 605.3L269.7 605.4L271.7 605.6L273.7 605.9L275.7 606.1L277.7 606.5L279.7 606.9L281.7 607.3L283.7 607.8L285.7 608.3L287.7 608.8L289.7 609.4L291.7 610.0L293.7 610.6L295.7 611.3L297.7 611.9L299.7 612.6L301.7 613.3L303.7 614.1L305.7 614.8L307.7 615.6L309.7 616.3L311.7 617.1L313.7 617.9L315.7 618.6L317.7 619.4L319.7 620.1L321.7 620.8L323.7 621.5L325.7 622.2L327.7 622.8L329.7 623.4L331.7 624.0L333.7 624.6L335.7 625.1L337.7 625.6L339.7 626.0L341.7 626.4L343.7 626.9L345.7 627.3L347.8 627.7L349.8 628.1L351.8 628.6L353.8 629.1L355.8 629.6L357.8 630.1L359.8 630.7L361.8 631.3L363.8 631.9L365.8 632.5L367.8 633.2L369.8 633.8L371.8 634.5L373.8 635.1L375.8 635.7L377.8 636.3L379.8 636.9L381.8 637.5L383.8 638.0L385.8 638.5L387.8 638.9L389.8 639.3L391.8 639.7L393.8 640.0L395.8 640.3L397.8 640.6L399.8 640.8L401.8 641.1L403.8 641.3L405.8 641.4L407.8 641.6L409.8 641.7L411.8 641.9L413.8 642.0L415.8 642.1L417.8 642.2L419.8 642.3L421.8 642.4L423.8 642.4L425.8 642.5L427.8 642.6L429.9 642.7L431.9 642.8L433.9 642.9L435.9 643.0L437.9 643.1L439.9 643.2L441.9 643.3L443.9 643.4L445.9 643.5L447.9 643.6L449.9 643.7" fill="none" stroke="#F8766D" stroke-width="2.70" stroke-linejoin="round" stroke-linecap="butt"/>
<path d="M93.4 643.7L95.4 643.6L97.4 643.6L99.4 643.6L101.4 643.5L103.5 643.5L105.5 643.4L107.5 643.4L109.5 643.4L111.5 643.3L113.5 643.3L115.5 643.3L117.5 643.2L119.5 643.2L121.5 643.1L123.5 643.1L125.5 643.0L127.5 642.9L129.5 642.8L131.5 642.6L133.5 642.5L135.5 642.3L137.5 642.1L139.5 641.9L141.5 641.6L143.5 641.3L145.5 641.1L147.5 640.7L149.5 640.4L151.5 640.0L153.5 639.6L155.5 639.2L157.5 638.8L159.5 638.3L161.5 637.8L163.5 637.3L165.5 636.7L167.5 636.2L169.5 635.6L171.5 635.0L173.5 634.4L175.5 633.8L177.5 633.1L179.5 632.5L181.5 631.8L183.5 631.2L185.6 630.6L187.6 629.9L189.6 629.3L191.6 628.7L193.6 628.1L195.6 627.5L197.6 627.0L199.6 626.4L201.6 625.7L203.6 625.1L205.6 624.4L207.6 623.6L209.6 622.9L211.6 622.1L213.6 621.2L215.6 620.3L217.6 619.3L219.6 618.3L221.6 617.3L223.6 616.2L225.6 615.0L227.6 613.8L229.6 612.5L231.6 611.1L233.6 609.7L235.6 608.2L237.6 606.7L239.6 605.2L241.6 603.6L243.6 602.1L245.6 600.7L247.6 599.3L249.6 598.0L251.6 596.9L253.6 595.8L255.6 595.0L257.6 594.3L259.6 593.8L261.6 593.5L263.6 593.4L265.6 593.4L267.7 593.6L269.7 594.0L271.7 594.4L273.7 595.0L275.7 595.6L277.7 596.3L279.7 597.0L281.7 597.8L283.7 598.6L285.7 599.4L287.7 600.3L289.7 601.1L291.7 602.0L293.7 602.8L295.7 603.6L297.7 604.5L299.7 605.2L301.7 606.0L303.7 606.8L305.7 607.6L307.7 608.6L309.7 609.6L311.7 610.7L313.7 611.9L315.7 613.2L317.7 614.6L319.7 616.0L321.7 617.4L323.7 618.8L325.7 620.2L327.7 621.6L329.7 622.9L331.7 624.2L333.7 625.4L335.7 626.6L337.7 627.7L339.7 628.8L341.7 629.8L343.7 630.7L345.7 631.7L347.8 632.5L349.8 633.4L351.8 634.2L353.8 635.0L355.8 635.8L357.8 636.5L359.8 637.1L361.8 637.7L363.8 638.2L365.8 638.7L367.8 639.2L369.8 639.6L371.8 640.0L373.8 640.3L375.8 640.6L377.8 640.9L379.8 641.1L381.8 641.4L383.8 641.6L385.8 641.8L387.8 641.9L389.8 642.1L391.8 642.2L393.8 642.4L395.8 642.5L397.8 642.7L399.8 642.8L401.8 642.9L403.8 643.0L405.8 643.1L407.8 643.2L409.8 643.3L411.8 643.3L413.8 643.4L415.8 643.5L417.8 643.5L419.8 643.6L421.8 643.6L423.8 643.7" fill="none" stroke="#000000" stroke-width="2.70" stroke-linejoin="round" stroke-linecap="butt"/>
<path d="M61.4 643.9L63.4 643.9L65.4 643.9L67.4 643.8L69.4 643.8L71.4 643.8L73.4 643.8L75.4 643.8L77.4 643.8L79.4 643.8L81.4 643.8L83.4 643.8L85.4 643.8L87.4 643.8L89.4 643.8L91.4 643.8L93.4 643.8L95.4 643.8L97.4 643.8L99.4 643.8L101.4 643.8L103.5 643.8L105.5 643.8L107.5 643.8L109.5 643.8L111.5 643.8L113.5 643.8L115.5 643.8L117.5 643.8L119.5 643.8L121.5 643.8L123.5 643.8L125.5 643.7L127.5 643.7L129.5 643.7L131.5 643.6L133.5 643.6L135.5 643.5L137.5 643.5L139.5 643.4L141.5 643.3L143.5 643.3L145.5 643.2L147.5 643.1L149.5 643.0L151.5 642.9L153.5 642.8L155.5 642.7L157.5 642.6L159.5 642.4L161.5 642.3L163.5 642.1L165.5 642.0L167.5 641.8L169.5 641.6L171.5 641.4L173.5 641.2L175.5 640.9L177.5 640.7L179.5 640.4L181.5 640.1L183.5 639.8L185.6 639.4L187.6 639.1L189.6 638.7L191.6 638.2L193.6 637.7L195.6 637.2L197.6 636.7L199.6 636.1L201.6 635.4L203.6 634.7L205.6 633.9L207.6 633.0L209.6 632.1L211.6 631.1L213.6 629.9L215.6 628.7L217.6 627.4L219.6 626.0L221.6 624.5L223.6 623.1L225.6 621.8L227.6 620.5L229.6 619.3L231.6 618.1L233.6 617.0L235.6 615.8L237.6 614.7L239.6 613.5L241.6 612.3L243.6 611.0L245.6 609.5L247.6 608.0L249.6 606.4L251.6 604.7L253.6 603.0L255.6 601.3L257.6 599.5L259.6 597.8L261.6 596.2L263.6 594.6L265.6 593.1L267.7 591.8L269.7 590.5L271.7 589.5L273.7 588.5L275.7 587.7L277.7 587.1L279.7 586.6L281.7 586.2L283.7 585.9L285.7 585.8L287.7 585.8L289.7 585.9L291.7 586.1L293.7 586.5L295.7 587.0L297.7 587.7L299.7 588.4L301.7 589.3L303.7 590.4L305.7 591.5L307.7 592.8L309.7 594.3L311.7 595.8L313.7 597.5L315.7 599.4L317.7 601.4L319.7 603.5L321.7 605.8L323.7 608.2L325.7 610.8L327.7 613.4L329.7 615.9L331.7 618.2L333.7 620.3L335.7 622.2L337.7 623.8L339.7 625.2L341.7 626.3L343.7 627.1L345.7 627.8L347.8 628.4L349.8 629.0L351.8 629.8L353.8 630.5L355.8 631.4L357.8 632.2L359.8 633.1L361.8 634.0L363.8 634.9L365.8 635.8L367.8 636.6L369.8 637.5L371.8 638.3L373.8 639.0L375.8 639.7L377.8 640.3L379.8 640.9L381.8 641.4L383.8 641.9L385.8 642.2L387.8 642.6L389.8 642.9L391.8 643.1L393.8 643.3L395.8 643.5L397.8 643.6L399.8 643.7L401.8 643.8L403.8 643.9L405.8 643.9L407.8 643.9L409.8 643.9L411.8 643.9L413.8 643.9L415.8 643.8L417.8 643.8L419.8 643.8L421.8 643.8L423.8 643.7L425.8 643.7L427.8 643.7L429.9 643.7L431.9 643.7L433.9 643.8L435.9 643.8L437.9 643.8L439.9 643.8L441.9 643.8L443.9 643.8L445.9 643.9L447.9 643.9L449.9 643.9L451.9 643.9L453.9 643.9L455.9 643.9L457.9 643.9L459.9 643.9L461.9 643.9L463.9 643.9L465.9 643.9L467.9 643.8L469.9 643.8" fill="none" stroke="#C77CFF" stroke-width="2.70" stroke-linejoin="round" stroke-linecap="butt"/>
<line x1="41.10" y1="526.00" x2="41.10" y2="650.12" stroke="#000000" stroke-width="1.45" stroke-linecap="butt"/>
<line x1="40.38" y1="649.40" x2="491.00" y2="649.40" stroke="#000000" stroke-width="1.45" stroke-linecap="butt"/>
<line x1="37.10" y1="644.00" x2="41.10" y2="644.00" stroke="#000000" stroke-width="1.35" stroke-linecap="butt"/>
<text x="33.70" y="647.44" font-size="9.90" text-anchor="end" font-weight="normal" fill="#000000" stroke="#000000" stroke-width="0.02" transform="rotate(0.03 33.70 647.44)">0</text>
<line x1="37.10" y1="621.60" x2="41.10" y2="621.60" stroke="#000000" stroke-width="1.35" stroke-linecap="butt"/>
<text x="33.70" y="625.04" font-size="9.90" text-anchor="end" font-weight="normal" fill="#000000" stroke="#000000" stroke-width="0.02" transform="rotate(0.03 33.70 625.04)">1</text>
<line x1="37.10" y1="599.20" x2="41.10" y2="599.20" stroke="#000000" stroke-width="1.35" stroke-linecap="butt"/>
<text x="33.70" y="602.64" font-size="9.90" text-anchor="end" font-weight="normal" fill="#000000" stroke="#000000" stroke-width="0.02" transform="rotate(0.03 33.70 602.64)">2</text>
<line x1="37.10" y1="576.80" x2="41.10" y2="576.80" stroke="#000000" stroke-width="1.35" stroke-linecap="butt"/>
<text x="33.70" y="580.24" font-size="9.90" text-anchor="end" font-weight="normal" fill="#000000" stroke="#000000" stroke-width="0.02" transform="rotate(0.03 33.70 580.24)">3</text>
<line x1="37.10" y1="554.40" x2="41.10" y2="554.40" stroke="#000000" stroke-width="1.35" stroke-linecap="butt"/>
<text x="33.70" y="557.84" font-size="9.90" text-anchor="end" font-weight="normal" fill="#000000" stroke="#000000" stroke-width="0.02" transform="rotate(0.03 33.70 557.84)">4</text>
<line x1="37.10" y1="532.00" x2="41.10" y2="532.00" stroke="#000000" stroke-width="1.35" stroke-linecap="butt"/>
<text x="33.70" y="535.44" font-size="9.90" text-anchor="end" font-weight="normal" fill="#000000" stroke="#000000" stroke-width="0.02" transform="rotate(0.03 33.70 535.44)">5</text>
<line x1="155.30" y1="649.40" x2="155.30" y2="653.40" stroke="#000000" stroke-width="1.35" stroke-linecap="butt"/>
<text x="155.50" y="662.80" font-size="9.90" text-anchor="middle" font-weight="normal" fill="#000000" stroke="#000000" stroke-width="0.02" transform="rotate(0.03 155.50 662.80)">3.5</text>
<line x1="286.80" y1="649.40" x2="286.80" y2="653.40" stroke="#000000" stroke-width="1.35" stroke-linecap="butt"/>
<text x="287.00" y="662.80" font-size="9.90" text-anchor="middle" font-weight="normal" fill="#000000" stroke="#000000" stroke-width="0.02" transform="rotate(0.03 287.00 662.80)">4.0</text>
<line x1="418.40" y1="649.40" x2="418.40" y2="653.40" stroke="#000000" stroke-width="1.35" stroke-linecap="butt"/>
<text x="418.60" y="662.80" font-size="9.90" text-anchor="middle" font-weight="normal" fill="#000000" stroke="#000000" stroke-width="0.02" transform="rotate(0.03 418.60 662.80)">4.5</text>
<text x="265.75" y="680.70" font-size="10.00" text-anchor="middle" font-weight="normal" fill="#000000" stroke="#000000" stroke-width="0.02" transform="rotate(0.03 265.75 680.70)">beta</text>
<text x="20.40" y="588.00" font-size="9.45" text-anchor="middle" font-weight="normal" fill="#000000" stroke="#000000" stroke-width="0.02" transform="rotate(-90 20.40 588.00)">density</text>
<text transform="translate(11.00 536.00) rotate(0.03) scale(1.047 1)" font-size="15.85" font-weight="bold" fill="#000000" stroke="#000000" stroke-width="0.02">D1</text>
<line x1="568.65" y1="13.65" x2="568.65" y2="137.60" stroke="#F8766D" stroke-width="2.70" stroke-linecap="butt"/>
<line x1="564.65" y1="13.65" x2="572.65" y2="13.65" stroke="#F8766D" stroke-width="2.45" stroke-linecap="butt"/>
<line x1="564.65" y1="137.60" x2="572.65" y2="137.60" stroke="#F8766D" stroke-width="2.45" stroke-linecap="butt"/>
<circle cx="568.65" cy="75.80" r="1.6" fill="#fff" stroke="#F8766D" stroke-width="0.95"/>
<line x1="607.90" y1="19.50" x2="607.90" y2="136.10" stroke="#000000" stroke-width="2.70" stroke-linecap="butt"/>
<line x1="603.90" y1="19.50" x2="611.90" y2="19.50" stroke="#000000" stroke-width="2.45" stroke-linecap="butt"/>
<line x1="603.90" y1="136.10" x2="611.90" y2="136.10" stroke="#000000" stroke-width="2.45" stroke-linecap="butt"/>
<circle cx="607.90" cy="77.40" r="1.6" fill="#fff" stroke="#000000" stroke-width="0.95"/>
<line x1="647.10" y1="16.50" x2="647.10" y2="109.20" stroke="#C77CFF" stroke-width="2.70" stroke-linecap="butt"/>
<line x1="643.10" y1="16.50" x2="651.10" y2="16.50" stroke="#C77CFF" stroke-width="2.45" stroke-linecap="butt"/>
<line x1="643.10" y1="109.20" x2="651.10" y2="109.20" stroke="#C77CFF" stroke-width="2.45" stroke-linecap="butt"/>
<circle cx="647.10" cy="62.30" r="1.6" fill="#fff" stroke="#C77CFF" stroke-width="0.95"/>
<line x1="686.40" y1="46.30" x2="686.40" y2="102.30" stroke="#7CAE00" stroke-width="2.70" stroke-linecap="butt"/>
<line x1="682.40" y1="46.30" x2="690.40" y2="46.30" stroke="#7CAE00" stroke-width="2.45" stroke-linecap="butt"/>
<line x1="682.40" y1="102.30" x2="690.40" y2="102.30" stroke="#7CAE00" stroke-width="2.45" stroke-linecap="butt"/>
<circle cx="686.40" cy="76.10" r="1.6" fill="#fff" stroke="#7CAE00" stroke-width="0.95"/>
<line x1="725.70" y1="40.40" x2="725.70" y2="112.70" stroke="#FFD700" stroke-width="2.70" stroke-linecap="butt"/>
<line x1="721.70" y1="40.40" x2="729.70" y2="40.40" stroke="#FFD700" stroke-width="2.45" stroke-linecap="butt"/>
<line x1="721.70" y1="112.70" x2="729.70" y2="112.70" stroke="#FFD700" stroke-width="2.45" stroke-linecap="butt"/>
<circle cx="725.70" cy="75.10" r="1.6" fill="#fff" stroke="#FFD700" stroke-width="0.95"/>
<line x1="545.00" y1="7.00" x2="545.00" y2="144.53" stroke="#000000" stroke-width="1.45" stroke-linecap="butt"/>
<line x1="544.27" y1="143.80" x2="749.90" y2="143.80" stroke="#000000" stroke-width="1.45" stroke-linecap="butt"/>
<line x1="541.00" y1="9.40" x2="545.00" y2="9.40" stroke="#000000" stroke-width="1.35" stroke-linecap="butt"/>
<text x="538.00" y="12.40" font-size="9.00" text-anchor="end" font-weight="normal" fill="#000000" stroke="#000000" stroke-width="0.02" transform="rotate(0.03 538.00 12.40)">2.1</text>
<line x1="541.00" y1="30.50" x2="545.00" y2="30.50" stroke="#000000" stroke-width="1.35" stroke-linecap="butt"/>
<text x="538.00" y="33.50" font-size="9.00" text-anchor="end" font-weight="normal" fill="#000000" stroke="#000000" stroke-width="0.02" transform="rotate(0.03 538.00 33.50)">2.0</text>
<line x1="541.00" y1="51.60" x2="545.00" y2="51.60" stroke="#000000" stroke-width="1.35" stroke-linecap="butt"/>
<text x="538.00" y="54.60" font-size="9.00" text-anchor="end" font-weight="normal" fill="#000000" stroke="#000000" stroke-width="0.02" transform="rotate(0.03 538.00 54.60)">1.9</text>
<line x1="541.00" y1="72.70" x2="545.00" y2="72.70" stroke="#000000" stroke-width="1.35" stroke-linecap="butt"/>
<text x="538.00" y="75.70" font-size="9.00" text-anchor="end" font-weight="normal" fill="#000000" stroke="#000000" stroke-width="0.02" transform="rotate(0.03 538.00 75.70)">1.8</text>
<line x1="541.00" y1="93.85" x2="545.00" y2="93.85" stroke="#000000" stroke-width="1.35" stroke-linecap="butt"/>
<text x="538.00" y="96.85" font-size="9.00" text-anchor="end" font-weight="normal" fill="#000000" stroke="#000000" stroke-width="0.02" transform="rotate(0.03 538.00 96.85)">1.7</text>
<line x1="541.00" y1="115.00" x2="545.00" y2="115.00" stroke="#000000" stroke-width="1.35" stroke-linecap="butt"/>
<text x="538.00" y="118.00" font-size="9.00" text-anchor="end" font-weight="normal" fill="#000000" stroke="#000000" stroke-width="0.02" transform="rotate(0.03 538.00 118.00)">1.6</text>
<line x1="541.00" y1="136.10" x2="545.00" y2="136.10" stroke="#000000" stroke-width="1.35" stroke-linecap="butt"/>
<text x="538.00" y="139.10" font-size="9.00" text-anchor="end" font-weight="normal" fill="#000000" stroke="#000000" stroke-width="0.02" transform="rotate(0.03 538.00 139.10)">1.5</text>
<line x1="568.65" y1="143.80" x2="568.65" y2="147.80" stroke="#000000" stroke-width="1.35" stroke-linecap="butt"/>
<line x1="607.90" y1="143.80" x2="607.90" y2="147.80" stroke="#000000" stroke-width="1.35" stroke-linecap="butt"/>
<line x1="647.10" y1="143.80" x2="647.10" y2="147.80" stroke="#000000" stroke-width="1.35" stroke-linecap="butt"/>
<line x1="686.40" y1="143.80" x2="686.40" y2="147.80" stroke="#000000" stroke-width="1.35" stroke-linecap="butt"/>
<line x1="725.70" y1="143.80" x2="725.70" y2="147.80" stroke="#000000" stroke-width="1.35" stroke-linecap="butt"/>
<text x="647.10" y="161.60" font-size="9.10" text-anchor="middle" font-weight="normal" fill="#000000" stroke="#000000" stroke-width="0.02" transform="rotate(0.03 647.10 161.60)">method</text>
<text x="517.20" y="76.00" font-size="8.50" text-anchor="middle" font-weight="normal" fill="#000000" stroke="#000000" stroke-width="0.02" transform="rotate(-90 517.20 76.00)">beta</text>
<text transform="translate(509.30 17.00) rotate(0.03) scale(1.047 1)" font-size="15.85" font-weight="bold" fill="#000000" stroke="#000000" stroke-width="0.02">A2</text>
<text x="761.60" y="54.90" font-size="6.70" text-anchor="start" font-weight="normal" fill="#000000" stroke="#000000" stroke-width="0.02" transform="rotate(0.03 761.60 54.90)">method</text>
<circle cx="762.9" cy="63.25" r="1.6" fill="#fff" stroke="#F8766D" stroke-width="1.05"/>
<text transform="translate(768.00 66.37) rotate(0.03) scale(0.992 1)" font-size="9.00" text-anchor="start" font-weight="normal" fill="#000000" stroke="#000000" stroke-width="0.02">BB−SSL</text>
<circle cx="762.9" cy="72.01" r="1.6" fill="#fff" stroke="#000000" stroke-width="1.05"/>
<text transform="translate(768.00 75.13) rotate(0.03) scale(0.997 1)" font-size="9.00" text-anchor="start" font-weight="normal" fill="#000000" stroke="#000000" stroke-width="0.02">Gold Standard</text>
<circle cx="762.9" cy="80.77" r="1.6" fill="#fff" stroke="#C77CFF" stroke-width="1.05"/>
<text transform="translate(768.00 83.89) rotate(0.03) scale(0.981 1)" font-size="9.00" text-anchor="start" font-weight="normal" fill="#000000" stroke="#000000" stroke-width="0.02">Skinny Gibbs</text>
<circle cx="762.9" cy="89.53" r="1.6" fill="#fff" stroke="#7CAE00" stroke-width="1.05"/>
<text transform="translate(768.00 92.65) rotate(0.03) scale(0.985 1)" font-size="9.00" text-anchor="start" font-weight="normal" fill="#000000" stroke="#000000" stroke-width="0.02">WBB1</text>
<circle cx="762.9" cy="98.29" r="1.6" fill="#fff" stroke="#FFD700" stroke-width="1.05"/>
<text transform="translate(768.00 101.41) rotate(0.03) scale(0.992 1)" font-size="9.00" text-anchor="start" font-weight="normal" fill="#000000" stroke="#000000" stroke-width="0.02">WBB2</text>
<line x1="573.05" y1="186.65" x2="573.05" y2="310.60" stroke="#F8766D" stroke-width="2.70" stroke-linecap="butt"/>
<line x1="569.05" y1="186.65" x2="577.05" y2="186.65" stroke="#F8766D" stroke-width="2.45" stroke-linecap="butt"/>
<line x1="569.05" y1="310.60" x2="577.05" y2="310.60" stroke="#F8766D" stroke-width="2.45" stroke-linecap="butt"/>
<circle cx="573.05" cy="247.70" r="1.6" fill="#fff" stroke="#F8766D" stroke-width="0.95"/>
<line x1="611.40" y1="202.20" x2="611.40" y2="291.20" stroke="#000000" stroke-width="2.70" stroke-linecap="butt"/>
<line x1="607.40" y1="202.20" x2="615.40" y2="202.20" stroke="#000000" stroke-width="2.45" stroke-linecap="butt"/>
<line x1="607.40" y1="291.20" x2="615.40" y2="291.20" stroke="#000000" stroke-width="2.45" stroke-linecap="butt"/>
<circle cx="611.40" cy="246.80" r="1.6" fill="#fff" stroke="#000000" stroke-width="0.95"/>
<line x1="649.70" y1="201.00" x2="649.70" y2="273.70" stroke="#C77CFF" stroke-width="2.70" stroke-linecap="butt"/>
<line x1="645.70" y1="201.00" x2="653.70" y2="201.00" stroke="#C77CFF" stroke-width="2.45" stroke-linecap="butt"/>
<line x1="645.70" y1="273.70" x2="653.70" y2="273.70" stroke="#C77CFF" stroke-width="2.45" stroke-linecap="butt"/>
<circle cx="649.70" cy="236.50" r="1.6" fill="#fff" stroke="#C77CFF" stroke-width="0.95"/>
<line x1="688.00" y1="224.60" x2="688.00" y2="267.30" stroke="#7CAE00" stroke-width="2.70" stroke-linecap="butt"/>
<line x1="684.00" y1="224.60" x2="692.00" y2="224.60" stroke="#7CAE00" stroke-width="2.45" stroke-linecap="butt"/>
<line x1="684.00" y1="267.30" x2="692.00" y2="267.30" stroke="#7CAE00" stroke-width="2.45" stroke-linecap="butt"/>
<circle cx="688.00" cy="245.50" r="1.6" fill="#fff" stroke="#7CAE00" stroke-width="0.95"/>
<line x1="726.10" y1="215.30" x2="726.10" y2="274.20" stroke="#FFD700" stroke-width="2.70" stroke-linecap="butt"/>
<line x1="722.10" y1="215.30" x2="730.10" y2="215.30" stroke="#FFD700" stroke-width="2.45" stroke-linecap="butt"/>
<line x1="722.10" y1="274.20" x2="730.10" y2="274.20" stroke="#FFD700" stroke-width="2.45" stroke-linecap="butt"/>
<circle cx="726.10" cy="246.00" r="1.6" fill="#fff" stroke="#FFD700" stroke-width="0.95"/>
<line x1="550.10" y1="180.00" x2="550.10" y2="317.33" stroke="#000000" stroke-width="1.45" stroke-linecap="butt"/>
<line x1="549.38" y1="316.60" x2="749.90" y2="316.60" stroke="#000000" stroke-width="1.45" stroke-linecap="butt"/>
<line x1="546.10" y1="211.30" x2="550.10" y2="211.30" stroke="#000000" stroke-width="1.35" stroke-linecap="butt"/>
<text x="543.10" y="214.30" font-size="9.00" text-anchor="end" font-weight="normal" fill="#000000" stroke="#000000" stroke-width="0.02" transform="rotate(0.03 543.10 214.30)">3.25</text>
<line x1="546.10" y1="249.00" x2="550.10" y2="249.00" stroke="#000000" stroke-width="1.35" stroke-linecap="butt"/>
<text x="543.10" y="252.00" font-size="9.00" text-anchor="end" font-weight="normal" fill="#000000" stroke="#000000" stroke-width="0.02" transform="rotate(0.03 543.10 252.00)">3.00</text>
<line x1="546.10" y1="286.80" x2="550.10" y2="286.80" stroke="#000000" stroke-width="1.35" stroke-linecap="butt"/>
<text x="543.10" y="289.80" font-size="9.00" text-anchor="end" font-weight="normal" fill="#000000" stroke="#000000" stroke-width="0.02" transform="rotate(0.03 543.10 289.80)">2.75</text>
<line x1="573.05" y1="316.60" x2="573.05" y2="320.60" stroke="#000000" stroke-width="1.35" stroke-linecap="butt"/>
<line x1="611.40" y1="316.60" x2="611.40" y2="320.60" stroke="#000000" stroke-width="1.35" stroke-linecap="butt"/>
<line x1="649.70" y1="316.60" x2="649.70" y2="320.60" stroke="#000000" stroke-width="1.35" stroke-linecap="butt"/>
<line x1="688.00" y1="316.60" x2="688.00" y2="320.60" stroke="#000000" stroke-width="1.35" stroke-linecap="butt"/>
<line x1="726.10" y1="316.60" x2="726.10" y2="320.60" stroke="#000000" stroke-width="1.35" stroke-linecap="butt"/>
<text x="649.70" y="334.60" font-size="9.10" text-anchor="middle" font-weight="normal" fill="#000000" stroke="#000000" stroke-width="0.02" transform="rotate(0.03 649.70 334.60)">method</text>
<text x="517.20" y="249.00" font-size="8.50" text-anchor="middle" font-weight="normal" fill="#000000" stroke="#000000" stroke-width="0.02" transform="rotate(-90 517.20 249.00)">beta</text>
<text transform="translate(509.30 190.00) rotate(0.03) scale(1.047 1)" font-size="15.85" font-weight="bold" fill="#000000" stroke="#000000" stroke-width="0.02">B2</text>
<text x="761.60" y="227.90" font-size="6.70" text-anchor="start" font-weight="normal" fill="#000000" stroke="#000000" stroke-width="0.02" transform="rotate(0.03 761.60 227.90)">method</text>
<circle cx="762.9" cy="236.25" r="1.6" fill="#fff" stroke="#F8766D" stroke-width="1.05"/>
<text transform="translate(768.00 239.37) rotate(0.03) scale(0.992 1)" font-size="9.00" text-anchor="start" font-weight="normal" fill="#000000" stroke="#000000" stroke-width="0.02">BB−SSL</text>
<circle cx="762.9" cy="245.01" r="1.6" fill="#fff" stroke="#000000" stroke-width="1.05"/>
<text transform="translate(768.00 248.13) rotate(0.03) scale(0.997 1)" font-size="9.00" text-anchor="start" font-weight="normal" fill="#000000" stroke="#000000" stroke-width="0.02">Gold Standard</text>
<circle cx="762.9" cy="253.77" r="1.6" fill="#fff" stroke="#C77CFF" stroke-width="1.05"/>
<text transform="translate(768.00 256.89) rotate(0.03) scale(0.981 1)" font-size="9.00" text-anchor="start" font-weight="normal" fill="#000000" stroke="#000000" stroke-width="0.02">Skinny Gibbs</text>
<circle cx="762.9" cy="262.53" r="1.6" fill="#fff" stroke="#7CAE00" stroke-width="1.05"/>
<text transform="translate(768.00 265.65) rotate(0.03) scale(0.985 1)" font-size="9.00" text-anchor="start" font-weight="normal" fill="#000000" stroke="#000000" stroke-width="0.02">WBB1</text>
<circle cx="762.9" cy="271.29" r="1.6" fill="#fff" stroke="#FFD700" stroke-width="1.05"/>
<text transform="translate(768.00 274.41) rotate(0.03) scale(0.992 1)" font-size="9.00" text-anchor="start" font-weight="normal" fill="#000000" stroke="#000000" stroke-width="0.02">WBB2</text>
<line x1="573.15" y1="359.50" x2="573.15" y2="483.60" stroke="#F8766D" stroke-width="2.70" stroke-linecap="butt"/>
<line x1="569.15" y1="359.50" x2="577.15" y2="359.50" stroke="#F8766D" stroke-width="2.45" stroke-linecap="butt"/>
<line x1="569.15" y1="483.60" x2="577.15" y2="483.60" stroke="#F8766D" stroke-width="2.45" stroke-linecap="butt"/>
<circle cx="573.15" cy="421.30" r="1.6" fill="#fff" stroke="#F8766D" stroke-width="0.95"/>
<line x1="611.50" y1="376.40" x2="611.50" y2="465.10" stroke="#000000" stroke-width="2.70" stroke-linecap="butt"/>
<line x1="607.50" y1="376.40" x2="615.50" y2="376.40" stroke="#000000" stroke-width="2.45" stroke-linecap="butt"/>
<line x1="607.50" y1="465.10" x2="615.50" y2="465.10" stroke="#000000" stroke-width="2.45" stroke-linecap="butt"/>
<circle cx="611.50" cy="418.40" r="1.6" fill="#fff" stroke="#000000" stroke-width="0.95"/>
<line x1="649.80" y1="375.30" x2="649.80" y2="448.90" stroke="#C77CFF" stroke-width="2.70" stroke-linecap="butt"/>
<line x1="645.80" y1="375.30" x2="653.80" y2="375.30" stroke="#C77CFF" stroke-width="2.45" stroke-linecap="butt"/>
<line x1="645.80" y1="448.90" x2="653.80" y2="448.90" stroke="#C77CFF" stroke-width="2.45" stroke-linecap="butt"/>
<circle cx="649.80" cy="411.90" r="1.6" fill="#fff" stroke="#C77CFF" stroke-width="0.95"/>
<line x1="688.00" y1="399.45" x2="688.00" y2="441.20" stroke="#7CAE00" stroke-width="2.70" stroke-linecap="butt"/>
<line x1="684.00" y1="399.45" x2="692.00" y2="399.45" stroke="#7CAE00" stroke-width="2.45" stroke-linecap="butt"/>
<line x1="684.00" y1="441.20" x2="692.00" y2="441.20" stroke="#7CAE00" stroke-width="2.45" stroke-linecap="butt"/>
<circle cx="688.00" cy="420.40" r="1.6" fill="#fff" stroke="#7CAE00" stroke-width="0.95"/>
<line x1="726.10" y1="392.40" x2="726.10" y2="450.20" stroke="#FFD700" stroke-width="2.70" stroke-linecap="butt"/>
<line x1="722.10" y1="392.40" x2="730.10" y2="392.40" stroke="#FFD700" stroke-width="2.45" stroke-linecap="butt"/>
<line x1="722.10" y1="450.20" x2="730.10" y2="450.20" stroke="#FFD700" stroke-width="2.45" stroke-linecap="butt"/>
<circle cx="726.10" cy="421.50" r="1.6" fill="#fff" stroke="#FFD700" stroke-width="0.95"/>
<line x1="550.40" y1="353.00" x2="550.40" y2="490.33" stroke="#000000" stroke-width="1.45" stroke-linecap="butt"/>
<line x1="549.67" y1="489.60" x2="749.90" y2="489.60" stroke="#000000" stroke-width="1.45" stroke-linecap="butt"/>
<line x1="546.40" y1="377.00" x2="550.40" y2="377.00" stroke="#000000" stroke-width="1.35" stroke-linecap="butt"/>
<text x="543.40" y="380.00" font-size="9.00" text-anchor="end" font-weight="normal" fill="#000000" stroke="#000000" stroke-width="0.02" transform="rotate(0.03 543.40 380.00)">−2.6</text>
<line x1="546.40" y1="406.80" x2="550.40" y2="406.80" stroke="#000000" stroke-width="1.35" stroke-linecap="butt"/>
<text x="543.40" y="409.80" font-size="9.00" text-anchor="end" font-weight="normal" fill="#000000" stroke="#000000" stroke-width="0.02" transform="rotate(0.03 543.40 409.80)">−2.8</text>
<line x1="546.40" y1="436.60" x2="550.40" y2="436.60" stroke="#000000" stroke-width="1.35" stroke-linecap="butt"/>
<text x="543.40" y="439.60" font-size="9.00" text-anchor="end" font-weight="normal" fill="#000000" stroke="#000000" stroke-width="0.02" transform="rotate(0.03 543.40 439.60)">−3.0</text>
<line x1="546.40" y1="466.45" x2="550.40" y2="466.45" stroke="#000000" stroke-width="1.35" stroke-linecap="butt"/>
<text x="543.40" y="469.45" font-size="9.00" text-anchor="end" font-weight="normal" fill="#000000" stroke="#000000" stroke-width="0.02" transform="rotate(0.03 543.40 469.45)">−3.2</text>
<line x1="573.15" y1="489.60" x2="573.15" y2="493.60" stroke="#000000" stroke-width="1.35" stroke-linecap="butt"/>
<line x1="611.50" y1="489.60" x2="611.50" y2="493.60" stroke="#000000" stroke-width="1.35" stroke-linecap="butt"/>
<line x1="649.80" y1="489.60" x2="649.80" y2="493.60" stroke="#000000" stroke-width="1.35" stroke-linecap="butt"/>
<line x1="688.00" y1="489.60" x2="688.00" y2="493.60" stroke="#000000" stroke-width="1.35" stroke-linecap="butt"/>
<line x1="726.10" y1="489.60" x2="726.10" y2="493.60" stroke="#000000" stroke-width="1.35" stroke-linecap="butt"/>
<text x="649.80" y="507.60" font-size="9.10" text-anchor="middle" font-weight="normal" fill="#000000" stroke="#000000" stroke-width="0.02" transform="rotate(0.03 649.80 507.60)">method</text>
<text x="517.20" y="422.00" font-size="8.50" text-anchor="middle" font-weight="normal" fill="#000000" stroke="#000000" stroke-width="0.02" transform="rotate(-90 517.20 422.00)">beta</text>
<text transform="translate(509.30 363.00) rotate(0.03) scale(1.047 1)" font-size="15.85" font-weight="bold" fill="#000000" stroke="#000000" stroke-width="0.02">C2</text>
<text x="761.60" y="400.90" font-size="6.70" text-anchor="start" font-weight="normal" fill="#000000" stroke="#000000" stroke-width="0.02" transform="rotate(0.03 761.60 400.90)">method</text>
<circle cx="762.9" cy="409.25" r="1.6" fill="#fff" stroke="#F8766D" stroke-width="1.05"/>
<text transform="translate(768.00 412.37) rotate(0.03) scale(0.992 1)" font-size="9.00" text-anchor="start" font-weight="normal" fill="#000000" stroke="#000000" stroke-width="0.02">BB−SSL</text>
<circle cx="762.9" cy="418.01" r="1.6" fill="#fff" stroke="#000000" stroke-width="1.05"/>
<text transform="translate(768.00 421.13) rotate(0.03) scale(0.997 1)" font-size="9.00" text-anchor="start" font-weight="normal" fill="#000000" stroke="#000000" stroke-width="0.02">Gold Standard</text>
<circle cx="762.9" cy="426.77" r="1.6" fill="#fff" stroke="#C77CFF" stroke-width="1.05"/>
<text transform="translate(768.00 429.89) rotate(0.03) scale(0.981 1)" font-size="9.00" text-anchor="start" font-weight="normal" fill="#000000" stroke="#000000" stroke-width="0.02">Skinny Gibbs</text>
<circle cx="762.9" cy="435.53" r="1.6" fill="#fff" stroke="#7CAE00" stroke-width="1.05"/>
<text transform="translate(768.00 438.65) rotate(0.03) scale(0.985 1)" font-size="9.00" text-anchor="start" font-weight="normal" fill="#000000" stroke="#000000" stroke-width="0.02">WBB1</text>
<circle cx="762.9" cy="444.29" r="1.6" fill="#fff" stroke="#FFD700" stroke-width="1.05"/>
<text transform="translate(768.00 447.41) rotate(0.03) scale(0.992 1)" font-size="9.00" text-anchor="start" font-weight="normal" fill="#000000" stroke="#000000" stroke-width="0.02">WBB2</text>
<line x1="568.65" y1="532.50" x2="568.65" y2="656.60" stroke="#F8766D" stroke-width="2.70" stroke-linecap="butt"/>
<line x1="564.65" y1="532.50" x2="572.65" y2="532.50" stroke="#F8766D" stroke-width="2.45" stroke-linecap="butt"/>
<line x1="564.65" y1="656.60" x2="572.65" y2="656.60" stroke="#F8766D" stroke-width="2.45" stroke-linecap="butt"/>
<circle cx="568.65" cy="593.80" r="1.6" fill="#fff" stroke="#F8766D" stroke-width="0.95"/>
<line x1="607.90" y1="545.20" x2="607.90" y2="643.30" stroke="#000000" stroke-width="2.70" stroke-linecap="butt"/>
<line x1="603.90" y1="545.20" x2="611.90" y2="545.20" stroke="#000000" stroke-width="2.45" stroke-linecap="butt"/>
<line x1="603.90" y1="643.30" x2="611.90" y2="643.30" stroke="#000000" stroke-width="2.45" stroke-linecap="butt"/>
<circle cx="607.90" cy="592.40" r="1.6" fill="#fff" stroke="#000000" stroke-width="0.95"/>
<line x1="647.10" y1="540.80" x2="647.10" y2="623.90" stroke="#C77CFF" stroke-width="2.70" stroke-linecap="butt"/>
<line x1="643.10" y1="540.80" x2="651.10" y2="540.80" stroke="#C77CFF" stroke-width="2.45" stroke-linecap="butt"/>
<line x1="643.10" y1="623.90" x2="651.10" y2="623.90" stroke="#C77CFF" stroke-width="2.45" stroke-linecap="butt"/>
<circle cx="647.10" cy="582.90" r="1.6" fill="#fff" stroke="#C77CFF" stroke-width="0.95"/>
<line x1="686.40" y1="572.40" x2="686.40" y2="617.30" stroke="#7CAE00" stroke-width="2.70" stroke-linecap="butt"/>
<line x1="682.40" y1="572.40" x2="690.40" y2="572.40" stroke="#7CAE00" stroke-width="2.45" stroke-linecap="butt"/>
<line x1="682.40" y1="617.30" x2="690.40" y2="617.30" stroke="#7CAE00" stroke-width="2.45" stroke-linecap="butt"/>
<circle cx="686.40" cy="594.00" r="1.6" fill="#fff" stroke="#7CAE00" stroke-width="0.95"/>
<line x1="725.70" y1="562.90" x2="725.70" y2="623.05" stroke="#FFD700" stroke-width="2.70" stroke-linecap="butt"/>
<line x1="721.70" y1="562.90" x2="729.70" y2="562.90" stroke="#FFD700" stroke-width="2.45" stroke-linecap="butt"/>
<line x1="721.70" y1="623.05" x2="729.70" y2="623.05" stroke="#FFD700" stroke-width="2.45" stroke-linecap="butt"/>
<circle cx="725.70" cy="593.35" r="1.6" fill="#fff" stroke="#FFD700" stroke-width="0.95"/>
<line x1="545.00" y1="526.00" x2="545.00" y2="663.33" stroke="#000000" stroke-width="1.45" stroke-linecap="butt"/>
<line x1="544.27" y1="662.60" x2="749.90" y2="662.60" stroke="#000000" stroke-width="1.45" stroke-linecap="butt"/>
<line x1="541.00" y1="532.30" x2="545.00" y2="532.30" stroke="#000000" stroke-width="1.35" stroke-linecap="butt"/>
<text x="538.00" y="535.30" font-size="9.00" text-anchor="end" font-weight="normal" fill="#000000" stroke="#000000" stroke-width="0.02" transform="rotate(0.03 538.00 535.30)">4.3</text>
<line x1="541.00" y1="564.40" x2="545.00" y2="564.40" stroke="#000000" stroke-width="1.35" stroke-linecap="butt"/>
<text x="538.00" y="567.40" font-size="9.00" text-anchor="end" font-weight="normal" fill="#000000" stroke="#000000" stroke-width="0.02" transform="rotate(0.03 538.00 567.40)">4.1</text>
<line x1="541.00" y1="596.50" x2="545.00" y2="596.50" stroke="#000000" stroke-width="1.35" stroke-linecap="butt"/>
<text x="538.00" y="599.50" font-size="9.00" text-anchor="end" font-weight="normal" fill="#000000" stroke="#000000" stroke-width="0.02" transform="rotate(0.03 538.00 599.50)">3.9</text>
<line x1="541.00" y1="628.70" x2="545.00" y2="628.70" stroke="#000000" stroke-width="1.35" stroke-linecap="butt"/>
<text x="538.00" y="631.70" font-size="9.00" text-anchor="end" font-weight="normal" fill="#000000" stroke="#000000" stroke-width="0.02" transform="rotate(0.03 538.00 631.70)">3.7</text>
<line x1="541.00" y1="660.90" x2="545.00" y2="660.90" stroke="#000000" stroke-width="1.35" stroke-linecap="butt"/>
<text x="538.00" y="663.90" font-size="9.00" text-anchor="end" font-weight="normal" fill="#000000" stroke="#000000" stroke-width="0.02" transform="rotate(0.03 538.00 663.90)">3.5</text>
<line x1="568.65" y1="662.60" x2="568.65" y2="666.60" stroke="#000000" stroke-width="1.35" stroke-linecap="butt"/>
<line x1="607.90" y1="662.60" x2="607.90" y2="666.60" stroke="#000000" stroke-width="1.35" stroke-linecap="butt"/>
<line x1="647.10" y1="662.60" x2="647.10" y2="666.60" stroke="#000000" stroke-width="1.35" stroke-linecap="butt"/>
<line x1="686.40" y1="662.60" x2="686.40" y2="666.60" stroke="#000000" stroke-width="1.35" stroke-linecap="butt"/>
<line x1="725.70" y1="662.60" x2="725.70" y2="666.60" stroke="#000000" stroke-width="1.35" stroke-linecap="butt"/>
<text x="647.10" y="680.60" font-size="9.10" text-anchor="middle" font-weight="normal" fill="#000000" stroke="#000000" stroke-width="0.02" transform="rotate(0.03 647.10 680.60)">method</text>
<text x="517.20" y="595.00" font-size="8.50" text-anchor="middle" font-weight="normal" fill="#000000" stroke="#000000" stroke-width="0.02" transform="rotate(-90 517.20 595.00)">beta</text>
<text transform="translate(509.30 536.00) rotate(0.03) scale(1.047 1)" font-size="15.85" font-weight="bold" fill="#000000" stroke="#000000" stroke-width="0.02">D2</text>
<text x="761.60" y="573.90" font-size="6.70" text-anchor="start" font-weight="normal" fill="#000000" stroke="#000000" stroke-width="0.02" transform="rotate(0.03 761.60 573.90)">method</text>
<circle cx="762.9" cy="582.25" r="1.6" fill="#fff" stroke="#F8766D" stroke-width="1.05"/>
<text transform="translate(768.00 585.37) rotate(0.03) scale(0.992 1)" font-size="9.00" text-anchor="start" font-weight="normal" fill="#000000" stroke="#000000" stroke-width="0.02">BB−SSL</text>
<circle cx="762.9" cy="591.01" r="1.6" fill="#fff" stroke="#000000" stroke-width="1.05"/>
<text transform="translate(768.00 594.13) rotate(0.03) scale(0.997 1)" font-size="9.00" text-anchor="start" font-weight="normal" fill="#000000" stroke="#000000" stroke-width="0.02">Gold Standard</text>
<circle cx="762.9" cy="599.77" r="1.6" fill="#fff" stroke="#C77CFF" stroke-width="1.05"/>
<text transform="translate(768.00 602.89) rotate(0.03) scale(0.981 1)" font-size="9.00" text-anchor="start" font-weight="normal" fill="#000000" stroke="#000000" stroke-width="0.02">Skinny Gibbs</text>
<circle cx="762.9" cy="608.53" r="1.6" fill="#fff" stroke="#7CAE00" stroke-width="1.05"/>
<text transform="translate(768.00 611.65) rotate(0.03) scale(0.985 1)" font-size="9.00" text-anchor="start" font-weight="normal" fill="#000000" stroke="#000000" stroke-width="0.02">WBB1</text>
<circle cx="762.9" cy="617.29" r="1.6" fill="#fff" stroke="#FFD700" stroke-width="1.05"/>
<text transform="translate(768.00 620.41) rotate(0.03) scale(0.992 1)" font-size="9.00" text-anchor="start" font-weight="normal" fill="#000000" stroke="#000000" stroke-width="0.02">WBB2</text>
</svg>
</body>
</html>
